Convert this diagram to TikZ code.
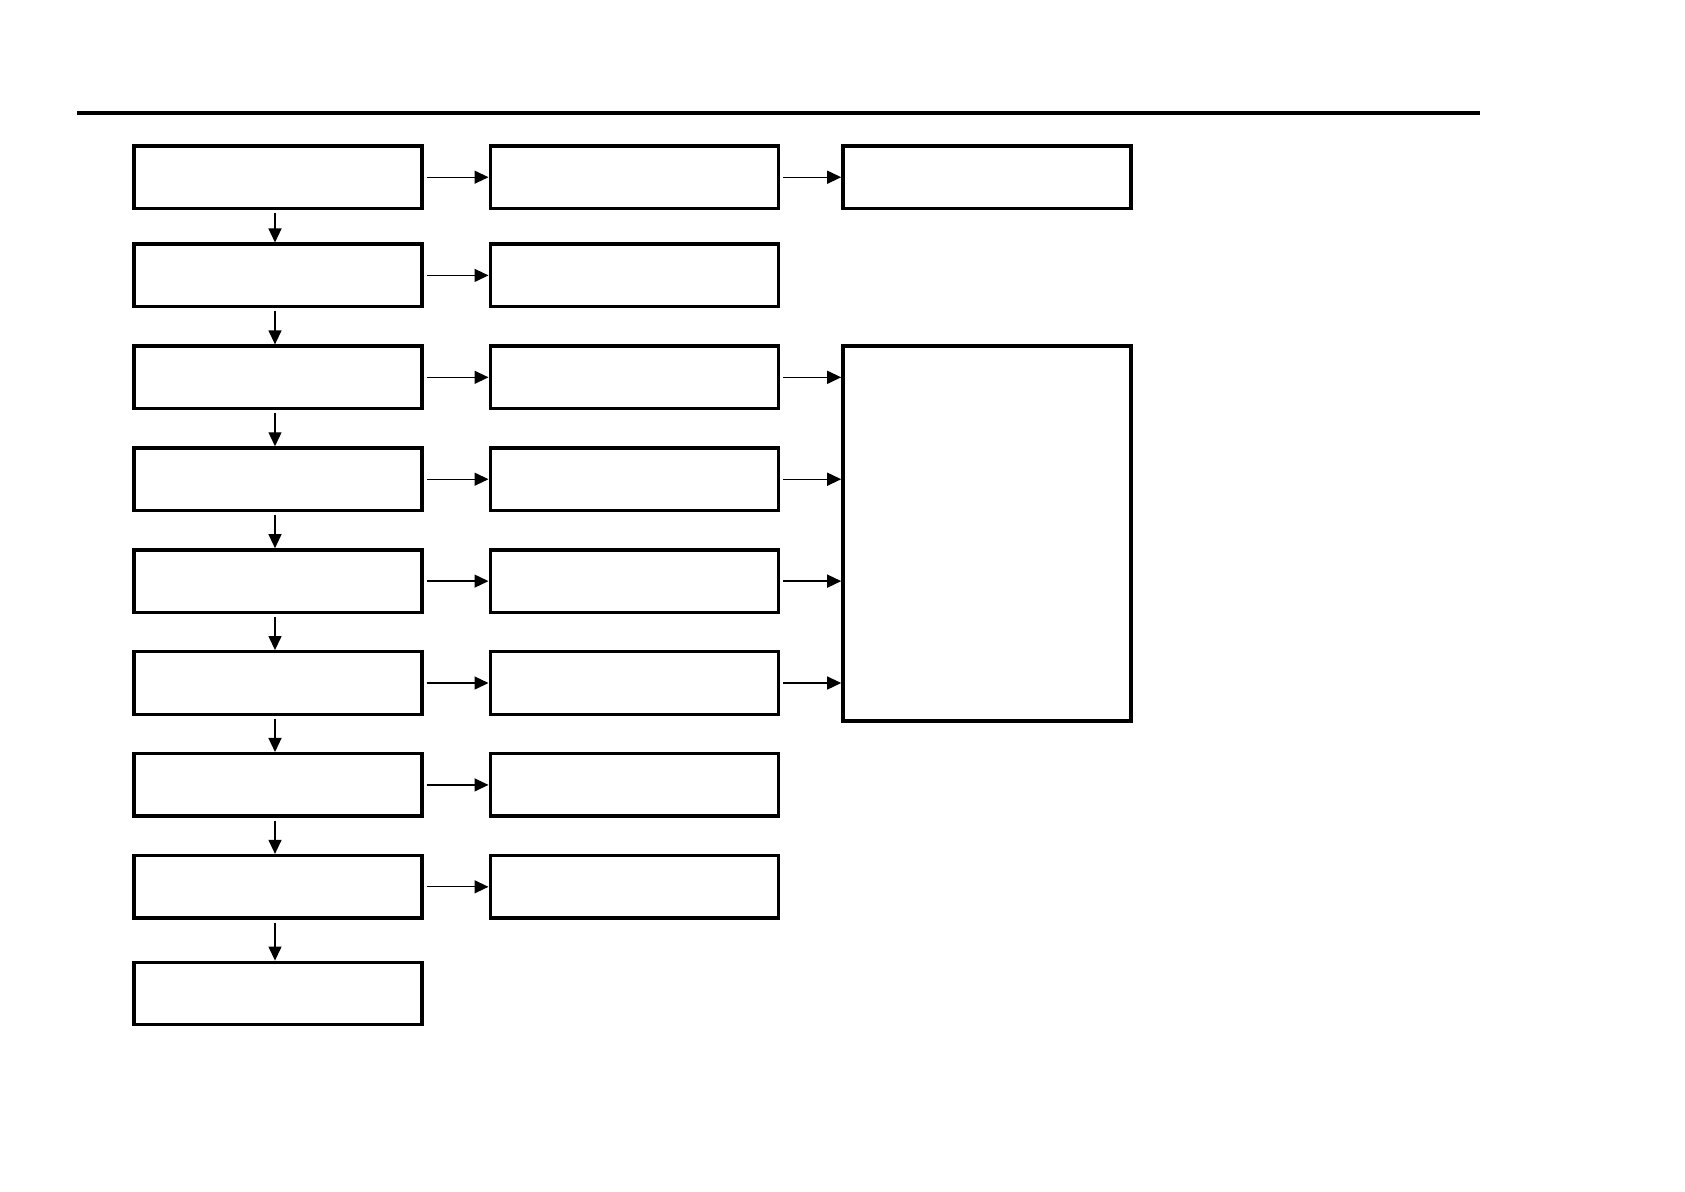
\documentclass[tikz,border=0pt]{standalone}
\usepackage{tikz}
\usetikzlibrary{arrows.meta,positioning}
\tikzset{
  flowpicture/.style={node distance=18pt and 32.4pt},
  flowbox/.style={draw, line width=1.7pt, minimum width=144pt, minimum height=31.25pt, inner sep=0pt},
  flowtall/.style={flowbox, minimum height=187.5pt},
  flowarrow/.style={-{Triangle[length=7pt, width=6.5pt]}, line width=0.65pt, shorten <=1.5pt},
  flowrule/.style={line width=2pt}
}
\begin{document}
\begin{tikzpicture}[flowpicture]
\useasboundingbox (0,0) rectangle (842.5pt,-595.5pt);
\draw[flowrule] (38.5pt,-56.4pt) -- (740pt,-56.4pt);
% main column
\node[flowbox] (stage1) at (139pt,-88.6pt) {};
\node[flowbox, below=16.15pt of stage1] (stage2) {};
\node[flowbox, below=of stage2] (stage3) {};
\node[flowbox, below=of stage3] (stage4) {};
\node[flowbox, below=of stage4] (stage5) {};
\node[flowbox, below=of stage5] (stage6) {};
\node[flowbox, below=of stage6] (stage7) {};
\node[flowbox, below=of stage7] (stage8) {};
\node[flowbox, below=20.4pt of stage8] (stage9) {};
% side column
\node[flowbox, right=of stage1] (detail1) {};
\node[flowbox, right=of stage2] (detail2) {};
\node[flowbox, right=of stage3] (detail3) {};
\node[flowbox, right=of stage4] (detail4) {};
\node[flowbox, right=of stage5] (detail5) {};
\node[flowbox, right=of stage6] (detail6) {};
\node[flowbox, right=of stage7] (detail7) {};
\node[flowbox, right=of stage8] (detail8) {};
% right column
\node[flowbox, right=30.65pt of detail1] (outcome) {};
\node[flowtall, right=30.65pt of detail3.north east, anchor=north west] (summary) {};
\foreach \i [count=\j from 2] in {1,...,8}
  \draw[flowarrow] ([xshift=-1.5pt]stage\i.south) -- ([xshift=-1.5pt]stage\j.north);
\foreach \i in {1,...,8}
  \draw[flowarrow] (stage\i) -- (detail\i);
\draw[flowarrow] (detail1) -- (outcome);
\foreach \i in {3,...,6}
  \draw[flowarrow] (detail\i.east) -- (detail\i.east -| summary.west);
\end{tikzpicture}
\end{document}
